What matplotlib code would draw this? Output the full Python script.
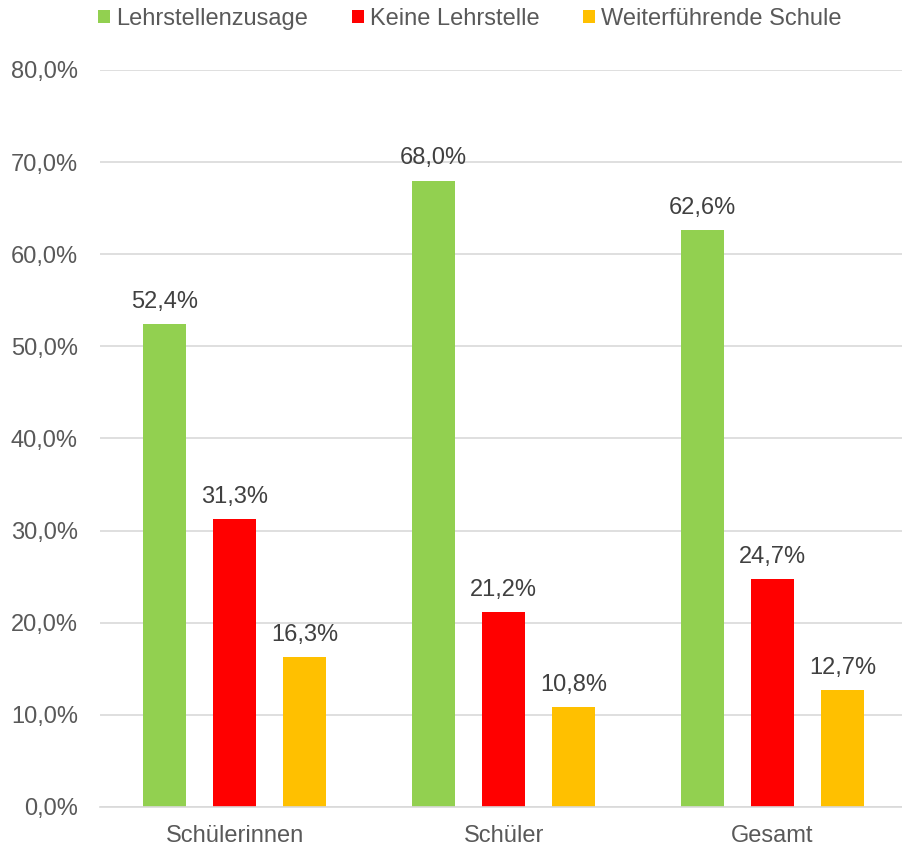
import numpy as np
import matplotlib.pyplot as plt

plt.rcParams['font.family'] = ['Liberation Sans', 'DejaVu Sans']

categories = ["Schülerinnen", "Schüler", "Gesamt"]
series_names = ["Lehrstellenzusage", "Keine Lehrstelle", "Weiterführende Schule"]
lehrstelle = [52.4, 68.0, 62.6]
keine = [31.3, 21.2, 24.7]
weiter = [16.3, 10.8, 12.7]
colors = ["#92D050", "#FF0000", "#FFC000"]

fig = plt.figure(figsize=(9.02, 8.46), dpi=100)
ax = fig.add_axes([0.111, 0.0461, 0.889, 0.8712])

x = np.arange(len(categories))
width = 0.16
offsets = [-0.26, 0, 0.26]

for vals, name, col, off in zip([lehrstelle, keine, weiter], series_names, colors, offsets):
    bars = ax.bar(x + off, vals, width, color=col, label=name, zorder=3)
    for b, v in zip(bars, vals):
        ax.annotate(f"{v:.1f}%".replace(".", ","), (b.get_x() + b.get_width() / 2, v),
                    xytext=(0, 8), textcoords="offset points", ha="center", va="bottom",
                    fontsize=17, color="#404040")

ax.set_xlim(-0.5, 2.481)
ax.set_ylim(0, 80)
ax.set_yticks(range(0, 81, 10))
ax.set_yticklabels([f"{t},0%" for t in range(0, 81, 10)])
ax.set_xticks(x)
ax.set_xticklabels(categories)
ax.tick_params(axis="both", length=0, labelsize=17, colors="#595959")
ax.tick_params(axis="y", pad=16)
ax.tick_params(axis="x", pad=13)
ax.grid(axis="y", color="#D9D9D9", linewidth=1.2, zorder=0)
for s in ["top", "right", "left"]:
    ax.spines[s].set_visible(False)
ax.spines["bottom"].set_color("#D9D9D9")
ax.spines["bottom"].set_linewidth(1.2)
ax.spines["bottom"].set_zorder(4)

fig.legend(loc="center", bbox_to_anchor=(0.521, 0.9775), ncol=3, frameon=False,
           fontsize=17, handlelength=0.51, handleheight=0.51, handletextpad=0.25,
           columnspacing=1.86, labelcolor="#595959")

fig.savefig("out.png", dpi=100)
